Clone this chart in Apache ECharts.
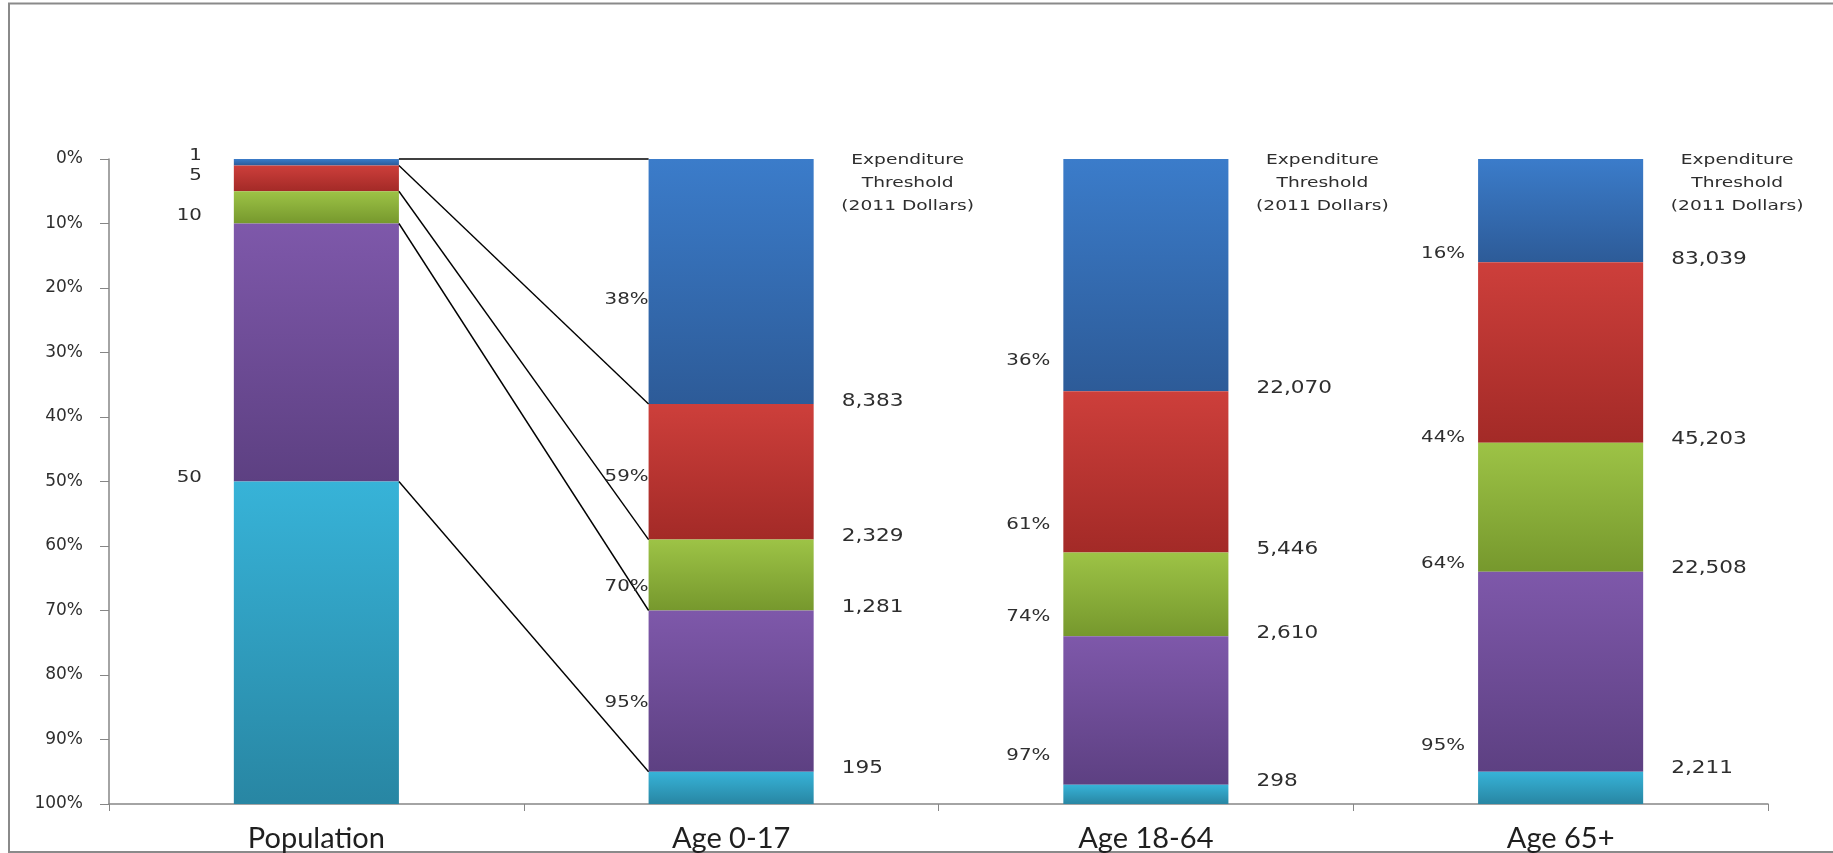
<!DOCTYPE html>
<html>
<head>
<meta charset="utf-8">
<title>Expenditure thresholds by age group</title>
<script src="https://cdn.jsdelivr.net/npm/echarts@6/dist/echarts.min.js"></script>
<style>
  html, body { margin: 0; padding: 0; background: #fff; }
  #chart { width: 1833px; height: 853px; }
</style>
</head>
<body>
<div id="chart"></div>
<script>
// categories on the x axis
var categories = ['Population', 'Age 0-17', 'Age 18-64', 'Age 65+'];

// cumulative share (%) at the bottom of each tier, per category
var cutTop1 = [1, 38, 36, 16];
var cutTop5 = [5, 59, 61, 44];
var cutTop10 = [10, 70, 74, 64];
var cutTop50 = [50, 95, 97, 95];

// expenditure threshold (2011 dollars) at each cut, age groups only
var thrTop1 = [null, 8383, 22070, 83039];
var thrTop5 = [null, 2329, 5446, 45203];
var thrTop10 = [null, 1281, 2610, 22508];
var thrTop50 = [null, 195, 298, 2211];

// y ticks
var yTicks = [0, 10, 20, 30, 40, 50, 60, 70, 80, 90, 100];

// where the left-hand percent labels sit (axis units)
var pctLabelAt = [
  [-0.4, 2.7, 8.8, 49.4],
  [21.9, 49.3, 66.4, 84.3],
  [31.4, 56.7, 71.0, 92.6],
  [14.7, 43.3, 62.8, 91.1]
];

var cuts = [cutTop1, cutTop5, cutTop10, cutTop50];
var thrs = [thrTop1, thrTop5, thrTop10, thrTop50];

// segment sizes from the cuts
function seg(k) {
  return categories.map(function (c, i) {
    var lo = k === 0 ? 0 : cuts[k - 1][i];
    var hi = k === 4 ? 100 : cuts[k][i];
    return hi - lo;
  });
}

function grad(top, bottom) {
  return new echarts.graphic.LinearGradient(0, 0, 0, 1, [
    { offset: 0, color: top },
    { offset: 1, color: bottom }
  ]);
}

var tierColors = [
  ['#3b7cca', '#2d5b98'],
  ['#cd3f3b', '#a32a27'],
  ['#9dc346', '#76982d'],
  ['#7e58aa', '#5d4082'],
  ['#37b3d8', '#2886a3']
];
var tierNames = ['Top 1%', 'Top 5%', 'Top 10%', 'Top 50%', 'Bottom 50%'];

var BAR_RATIO = 0.398;
var txtColor = '#2e2e2e';
var txtFont = 'DejaVu Sans';

function fmt(n) {
  return n.toString().replace(/\B(?=(\d{3})+(?!\d))/g, ',');
}

// annotation items: [catIndex, yValue, kind, text]
var notes = [];
categories.forEach(function (c, i) {
  for (var k = 0; k < 4; k++) {
    var t = i === 0 ? String(cuts[k][i]) : cuts[k][i] + '%';
    notes.push([i, pctLabelAt[i][k], 'left', t]);
    if (thrs[k][i] != null) {
      notes.push([i, cuts[k][i], 'right', fmt(thrs[k][i])]);
    }
  }
  if (i > 0) notes.push([i, 0, 'head', 'Expenditure\nThreshold\n(2011 Dollars)']);
});

// connectors from population cuts to age 0-17 cuts
var links = [[0, 0]];
for (var k = 0; k < 4; k++) links.push([cuts[k][0], cuts[k][1]]);

var series = [];
for (var s = 0; s < 5; s++) {
  series.push({
    name: tierNames[s],
    type: 'bar',
    stack: 'all',
    barWidth: (BAR_RATIO * 100) + '%',
    itemStyle: { color: grad(tierColors[s][0], tierColors[s][1]) },
    emphasis: { disabled: true },
    data: seg(s)
  });
}

series.push({
  type: 'custom',
  name: 'links',
  silent: true,
  clip: false,
  z: 5,
  data: links,
  renderItem: function (params, api) {
    var half = api.size([1, 0])[0] * BAR_RATIO / 2;
    var p0 = api.coord([0, api.value(0)]);
    var p1 = api.coord([1, api.value(1)]);
    return {
      type: 'line',
      shape: { x1: p0[0] + half, y1: p0[1], x2: p1[0] - half, y2: p1[1] },
      style: { stroke: '#000', lineWidth: 1.4 }
    };
  }
});

series.push({
  type: 'custom',
  name: 'notes',
  silent: true,
  clip: false,
  z: 6,
  data: notes,
  renderItem: function (params, api) {
    var item = notes[params.dataIndex];
    var half = api.size([1, 0])[0] * BAR_RATIO / 2;
    var p = api.coord([item[0], item[1]]);
    var kind = item[2];
    var el = { type: 'text', style: { text: item[3], fill: txtColor, fontFamily: txtFont } };
    if (kind === 'left') {
      var gap = item[0] === 0 ? 32 : (item[0] === 1 ? 0 : 13);
      el.x = p[0] - half - gap;
      el.y = p[1];
      el.scaleX = 1.32;
      el.style.fontSize = 15;
      el.style.align = 'right';
      el.style.verticalAlign = 'middle';
    } else if (kind === 'right') {
      el.x = p[0] + half + 28;
      el.y = p[1] - 3;
      el.scaleX = 1.2;
      el.style.fontSize = 18;
      el.style.align = 'left';
      el.style.verticalAlign = 'middle';
    } else {
      el.x = p[0] + half + 94;
      el.y = p[1] - 10;
      el.scaleX = 1.33;
      el.style.fontSize = 14;
      el.style.lineHeight = 23;
      el.style.align = 'center';
      el.style.verticalAlign = 'top';
    }
    return el;
  }
});

var chart = echarts.init(document.getElementById('chart'));
chart.setOption({
  backgroundColor: '#fff',
  animation: false,
  graphic: [{
    type: 'rect',
    silent: true,
    shape: { x: 9, y: 3.5, width: 1840, height: 848.5 },
    style: { fill: 'none', stroke: '#8a8a8a', lineWidth: 2 }
  }],
  grid: { left: 109, right: 65, top: 159, bottom: 49 },
  xAxis: {
    type: 'category',
    data: categories,
    position: 'bottom',
    axisLine: { onZero: false, lineStyle: { color: '#868686', width: 1.5 } },
    axisTick: { show: true, length: 7, lineStyle: { color: '#868686' } },
    axisLabel: { color: '#1f1f1f', fontFamily: 'Lato', fontSize: 29, margin: 20 }
  },
  yAxis: {
    type: 'value',
    inverse: true,
    min: yTicks[0],
    max: yTicks[yTicks.length - 1],
    interval: yTicks[1] - yTicks[0],
    axisLine: { show: true, lineStyle: { color: '#868686', width: 1.5 } },
    axisTick: { show: true, length: 9, lineStyle: { color: '#868686' } },
    splitLine: { show: false },
    axisLabel: { color: txtColor, fontFamily: txtFont, fontSize: 17, margin: 26, formatter: '{value}%' }
  },
  series: series
});
</script>
</body>
</html>
